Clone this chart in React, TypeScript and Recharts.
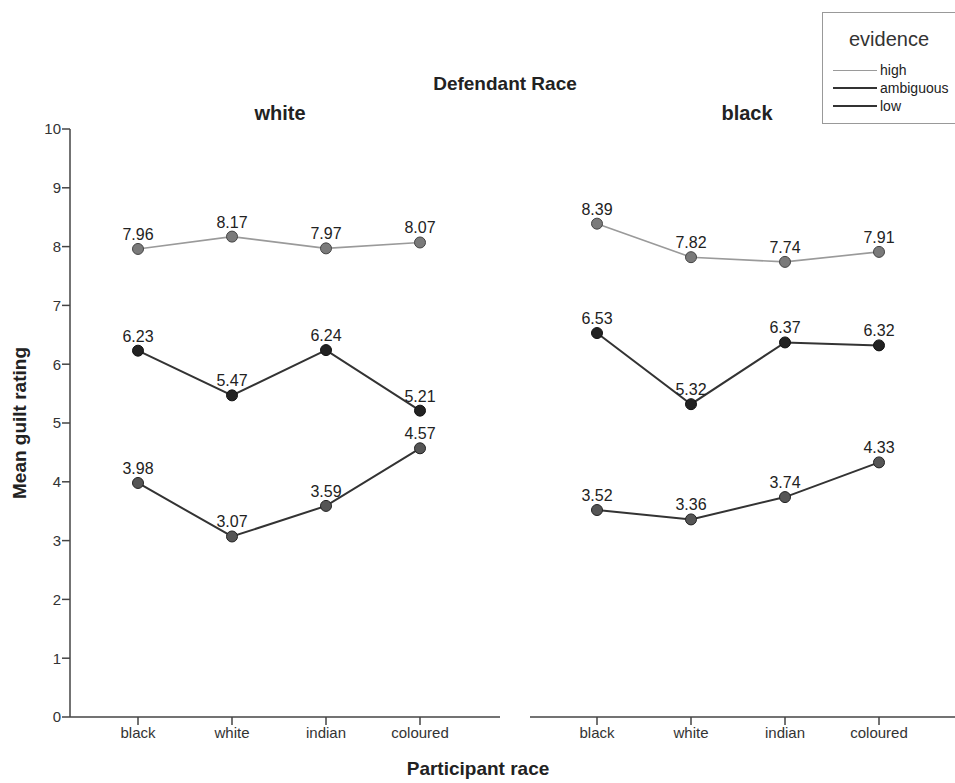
import { LineChart, Line, XAxis, YAxis, LabelList } from "recharts";

const categories = ["black", "white", "indian", "coloured"];
const yTicks = [0, 1, 2, 3, 4, 5, 6, 7, 8, 9, 10];

// defendant: white
const whiteHigh = [7.96, 8.17, 7.97, 8.07];
const whiteAmbiguous = [6.23, 5.47, 6.24, 5.21];
const whiteLow = [3.98, 3.07, 3.59, 4.57];

// defendant: black
const blackHigh = [8.39, 7.82, 7.74, 7.91];
const blackAmbiguous = [6.53, 5.32, 6.37, 6.32];
const blackLow = [3.52, 3.36, 3.74, 4.33];

const FONT = "'Liberation Sans', Arial, Helvetica, sans-serif";
const AXIS = "#444";

function buildRows(high: number[], amb: number[], low: number[]) {
  return categories.map((c, i) => ({ race: c, high: high[i], ambiguous: amb[i], low: low[i] }));
}

const seriesStyle = [
  { key: "high", stroke: "#9a9a9a", width: 1.6, fill: "#7a7a7a", dotStroke: "#444" },
  { key: "ambiguous", stroke: "#333", width: 2, fill: "#222", dotStroke: "#111" },
  { key: "low", stroke: "#333", width: 2, fill: "#555", dotStroke: "#222" },
];

function Panel({ rows, showY }: { rows: any[]; showY: boolean }) {
  const width = showY ? 500 : 425;
  return (
    <LineChart
      width={width}
      height={783}
      data={rows}
      margin={{ top: 129, right: 0, left: 0, bottom: 26 }}
    >
      <XAxis
        dataKey="race"
        padding={showY ? { left: 68, right: 80 } : { left: 67, right: 76 }}
        axisLine={{ stroke: AXIS, strokeWidth: 1.5 }}
        tickLine={{ stroke: AXIS, strokeWidth: 1.5 }}
        tickSize={8}
        height={40}
        tick={{ fontSize: 15, fill: "#333", fontFamily: FONT }}
        interval={0}
      />
      <YAxis
        type="number"
        domain={[0, 10]}
        ticks={yTicks}
        width={showY ? 70 : 0}
        axisLine={{ stroke: AXIS, strokeWidth: 1.5 }}
        tickLine={showY ? { stroke: AXIS, strokeWidth: 1.5 } : false}
        tick={showY ? { fontSize: 15, fill: "#333", fontFamily: FONT } : false}
        tickSize={8}
        tickMargin={1}
      />
      {seriesStyle.map((s) => (
        <Line
          key={s.key}
          dataKey={s.key}
          type="linear"
          stroke={s.stroke}
          strokeWidth={s.width}
          dot={{ r: 5.5, fill: s.fill, stroke: s.dotStroke, strokeWidth: 1 }}
          isAnimationActive={false}
        >
          <LabelList
            dataKey={s.key}
            position="top"
            offset={9}
            formatter={(v: any) => Number(v).toFixed(2)}
            style={{ fontSize: 16, fill: "#222", fontFamily: FONT }}
          />
        </Line>
      ))}
    </LineChart>
  );
}

const legendItems = [
  { name: "high", color: "#9a9a9a", w: 1.6 },
  { name: "ambiguous", color: "#333", w: 2 },
  { name: "low", color: "#333", w: 2 },
];

export default function App() {
  const textStyle = { position: "absolute" as const, fontFamily: FONT, color: "#222" };
  return (
    <div style={{ position: "fixed", left: 0, top: 0, width: 955, height: 783, background: "#fff", overflow: "hidden" }}>
      <div style={{ position: "absolute", left: 0, top: 0 }}>
        <Panel rows={buildRows(whiteHigh, whiteAmbiguous, whiteLow)} showY={true} />
      </div>
      <div style={{ position: "absolute", left: 530, top: 0 }}>
        <Panel rows={buildRows(blackHigh, blackAmbiguous, blackLow)} showY={false} />
      </div>

      <div style={{ ...textStyle, left: 355, width: 300, top: 73, textAlign: "center", fontSize: 19, fontWeight: "bold" }}>
        Defendant Race
      </div>
      <div style={{ ...textStyle, left: 180, width: 200, top: 102, textAlign: "center", fontSize: 20, fontWeight: "bold" }}>
        white
      </div>
      <div style={{ ...textStyle, left: 647, width: 200, top: 102, textAlign: "center", fontSize: 20, fontWeight: "bold" }}>
        black
      </div>
      <div style={{ ...textStyle, left: 328, width: 300, top: 758, textAlign: "center", fontSize: 19, fontWeight: "bold" }}>
        Participant race
      </div>
      <div
        style={{
          ...textStyle,
          left: 20 - 150,
          top: 423 - 12,
          width: 300,
          textAlign: "center",
          fontSize: 19,
          fontWeight: "bold",
          transform: "rotate(-90deg)",
          transformOrigin: "150px 12px",
          lineHeight: "24px",
        }}
      >
        Mean guilt rating
      </div>

      <div
        style={{
          position: "absolute",
          left: 822,
          top: 12,
          width: 150,
          height: 110,
          border: "1px solid #999",
          background: "#fff",
          fontFamily: FONT,
        }}
      >
        <div style={{ position: "absolute", left: 0, width: 132, top: 15, textAlign: "center", fontSize: 20, color: "#333" }}>
          evidence
        </div>
        {legendItems.map((it, i) => (
          <div key={it.name} style={{ position: "absolute", left: 10, top: 49 + i * 18, height: 16, display: "flex", alignItems: "center" }}>
            <div style={{ width: 44, height: 0, borderTop: `${it.w}px solid ${it.color}` }} />
            <span style={{ marginLeft: 3, fontSize: 14, color: "#222" }}>{it.name}</span>
          </div>
        ))}
      </div>
    </div>
  );
}
